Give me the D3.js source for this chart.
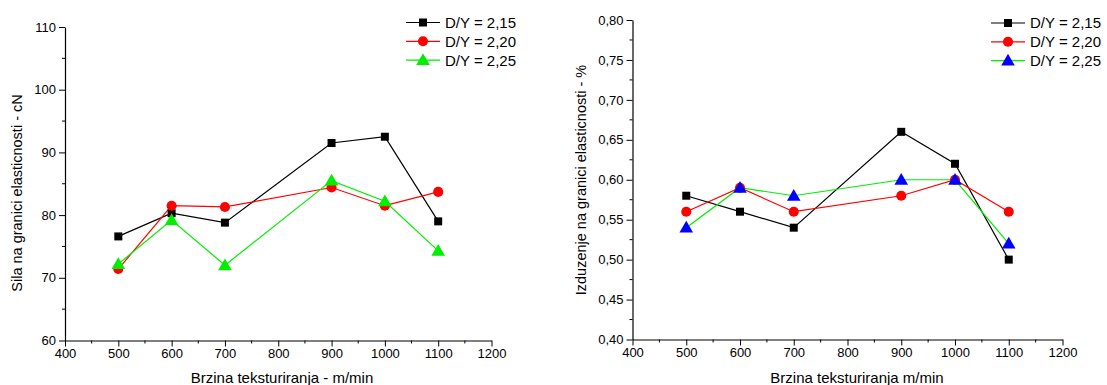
<!DOCTYPE html>
<html><head><meta charset="utf-8">
<script src="https://cdn.jsdelivr.net/npm/d3@7"></script>
<style>body{margin:0;background:#fff}svg{display:block;font-family:"Liberation Sans",Arial,sans-serif}</style>
</head><body><svg id="c" width="1107" height="385"></svg>
<script>
const speeds = [500, 600, 700, 900, 1000, 1100];
const seriesNames = ["D/Y = 2,15", "D/Y = 2,20", "D/Y = 2,25"];
const forceA = [76.6, 80.3, 78.8, 91.5, 92.5, 79.0];
const forceB = [71.4, 81.5, 81.3, 84.4, 81.5, 83.7];
const forceC = [72.2, 79.2, 72.0, 85.5, 82.2, 74.3];
const elongA = [0.58, 0.56, 0.54, 0.66, 0.62, 0.50];
const elongB = [0.56, 0.59, 0.56, 0.58, 0.60, 0.56];
const elongC = [0.54, 0.59, 0.58, 0.60, 0.60, 0.52];
const xTicks = [400, 500, 600, 700, 800, 900, 1000, 1100, 1200];
const leftYTicks = [60, 70, 80, 90, 100, 110];
const rightYTicks = [0.40, 0.45, 0.50, 0.55, 0.60, 0.65, 0.70, 0.75, 0.80];

const svg = d3.select("#c");
const FONT = "'Liberation Sans', Arial, sans-serif";

function panel(cfg) {
  const g = svg.append("g");
  const x = d3.scaleLinear().domain([400, 1200]).range([cfg.x0, cfg.x1]);
  const y = d3.scaleLinear().domain(cfg.ydom).range([cfg.y1, cfg.y0]);
  const xMinor = d3.range(450, 1200, 100);
  g.selectAll(".xm").data(xMinor).enter().append("line")
    .attr("x1", d => x(d)).attr("x2", d => x(d))
    .attr("y1", cfg.y1).attr("y2", cfg.y1 + 3).attr("stroke", "#000");
  g.selectAll(".ym").data(cfg.yMinor).enter().append("line")
    .attr("y1", d => y(d)).attr("y2", d => y(d))
    .attr("x1", cfg.x0).attr("x2", cfg.x0 - 3).attr("stroke", "#000");
  const xa = g.append("g").attr("transform", `translate(0,${cfg.y1})`)
    .call(d3.axisBottom(x).tickValues(xTicks).tickSize(6).tickSizeOuter(0).tickFormat(d3.format("d")));
  const ya = g.append("g").attr("transform", `translate(${cfg.x0},0)`)
    .call(d3.axisLeft(y).tickValues(cfg.yticks).tickSize(6).tickSizeOuter(0).tickFormat(cfg.fmt));
  [xa, ya].forEach(a => {
    a.attr("font-family", FONT).attr("font-size", 13);
    a.select(".domain").attr("stroke", "#000").attr("stroke-width", 1.2);
    a.selectAll(".tick line").attr("stroke", "#000");
    a.selectAll("text").attr("fill", "#000");
  });
  xa.selectAll("text").attr("y", 8);
  ya.selectAll("text").attr("x", -9);
  g.append("text").attr("x", cfg.xtx).attr("y", 383).attr("text-anchor", "middle")
    .attr("font-size", 15).text(cfg.xtitle);
  g.append("text").attr("transform", `translate(${cfg.ytx},${cfg.ytc}) rotate(-90)`)
    .attr("text-anchor", "middle").attr("font-size", 14.5).text(cfg.ytitle);

  const data = [cfg.a, cfg.b, cfg.c];
  const lineColors = ["#000", "#ff0000", "#00ee00"];
  const markColors = ["#000", "#ff0000", cfg.triColor];
  const sym = [d3.symbolSquare, d3.symbolCircle, d3.symbolTriangle];
  const sizes = [64, 80, 80];
  data.forEach((vals, i) => {
    const pts = speeds.map((s, j) => [x(s), y(vals[j])]);
    g.append("path").attr("d", d3.line()(pts)).attr("fill", "none")
      .attr("stroke", lineColors[i]).attr("stroke-width", 1.2);
  });
  data.forEach((vals, i) => {
    speeds.forEach((s, j) => {
      g.append("path").attr("d", d3.symbol(sym[i], sizes[i])())
        .attr("transform", `translate(${x(s)},${y(vals[j]) + (i === 2 ? 1 : 0)})`)
        .attr("fill", markColors[i]);
    });
  });
  seriesNames.forEach((n, i) => {
    const ly = cfg.ly + i * 18.8;
    g.append("line").attr("x1", cfg.lx).attr("x2", cfg.lx + 34).attr("y1", ly).attr("y2", ly)
      .attr("stroke", lineColors[i]).attr("stroke-width", 1.2);
    g.append("path").attr("d", d3.symbol(sym[i], sizes[i])())
      .attr("transform", `translate(${cfg.lx + 17},${ly + (i === 2 ? 1 : 0)})`).attr("fill", markColors[i]);
    g.append("text").attr("x", cfg.lx + 39).attr("y", ly).attr("dy", "0.36em")
      .attr("font-size", 15).text(n);
  });
}

panel({x0: 65, x1: 491.5, y0: 27, y1: 340.5, ydom: [60, 110], yticks: leftYTicks,
  yMinor: d3.range(65, 110, 10), fmt: d3.format("d"),
  a: forceA, b: forceB, c: forceC, triColor: "#00ee00",
  xtitle: "Brzina teksturiranja - m/min", xtx: 282, ytitle: "Sila na granici elasticnosti - cN", ytx: 22, ytc: 193,
  lx: 406, ly: 22.5});
panel({x0: 632.5, x1: 1062.5, y0: 20, y1: 339.5, ydom: [0.40, 0.80], yticks: rightYTicks,
  yMinor: d3.range(0.425, 0.80, 0.05), fmt: v => d3.format(".2f")(v).replace(".", ","),
  a: elongA, b: elongB, c: elongC, triColor: "#0000ff",
  xtitle: "Brzina teksturiranja m/min", xtx: 857, ytitle: "Izduzenje na granici elasticnosti - %", ytx: 586, ytc: 180,
  lx: 991, ly: 23});
</script></body></html>
